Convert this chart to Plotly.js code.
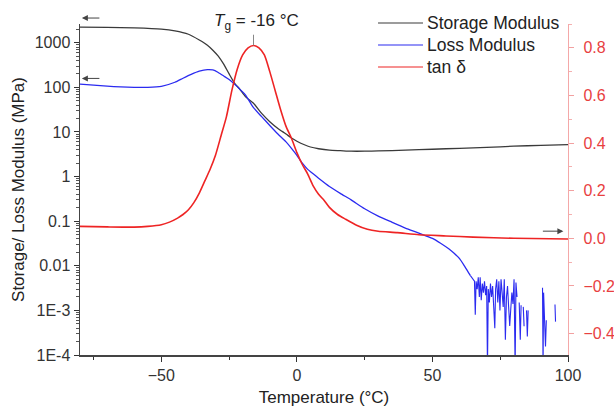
<!DOCTYPE html>
<html>
<head>
<meta charset="utf-8">
<script src="https://cdn.plot.ly/plotly-3.0.1.min.js"></script>
<style>html,body{margin:0;padding:0;background:#fff}#chart{width:614px;height:409px}</style>
</head>
<body>
<div id="chart"></div>
<script>
// Storage modulus (MPa)
const storageT = [-80,-70,-60,-50,-45,-40,-36,-33,-31,-29,-27,-25,-23,-21,-19,-16,-13,-10,-7,-4,-2,0,3,5,8,12,16,20,25,30,40,50,60,70,80,90,100];
const storageE = [2250,2220,2150,2020,1850,1550,1150,880,680,500,330,200,125,90,62,44,26,17,12,9,7.3,6.2,5.1,4.6,4.2,3.9,3.8,3.7,3.7,3.75,3.9,4.1,4.3,4.5,4.8,5.0,5.2];

// Loss modulus (MPa), smooth part
const lossT = [-80,-75,-70,-65,-60,-55,-50,-45,-42,-39,-36,-33,-31,-29,-27,-25,-23,-21,-19,-16,-13,-10,-7,-4,-2,0,2,4,6,8,12,16,20,25,30,35,40,45,50,53,56,58,60,62,64];
const lossE = [118,112,106,102,100,100,105,130,160,195,230,250,245,215,180,150,118,90,68,35,22,14,9,6,4.3,3.0,2.0,1.45,1.15,0.92,0.6,0.42,0.3,0.19,0.13,0.095,0.07,0.054,0.041,0.032,0.024,0.019,0.0145,0.0095,0.006];

// Loss modulus, noisy tail (null = gap / non-positive reading)
const lossNoiseT = [64.0,64.5,65.0,65.5,65.8,66.1,66.5,66.9,67.3,67.6,68.0,68.4,68.8,69.2,69.6,70.0,70.3,70.6,71.0,71.4,71.8,72.2,72.6,73.0,73.3,73.7,74.1,74.5,74.9,75.3,75.7,76.1,76.5,76.9,77.3,77.7,78.1,78.5,78.9,79.3,79.7,80.1,80.5,80.8,81.2,81.6,82.0,82.4,82.7,83.1,83.5,83.8,84.1,84.7,85.0,85.3,86.0,90.6,90.8,91.0,91.4,91.7,92.0,92.3,95.2,95.4];
const lossNoiseE = [0.006,0.0055,0.005,0.0045,0.0008,0.0045,0.003,0.0055,0.002,0.0055,0.0017,0.004,0.0025,0.0045,0.0022,0.0035,0.00005,0.003,0.0015,0.004,0.002,0.0035,0.0012,0.0004,0.003,0.005,0.0015,0.0045,0.001,0.005,0.0025,0.0012,0.005,0.00022,0.002,0.0035,0.0012,0.00045,0.0011,0.0025,0.0014,0.005,0.00005,0.0042,0.002,null,0.0015,0.00022,0.0013,null,0.0012,0.00044,null,0.001,0.00026,0.001,null,0.0032,0.00005,0.0025,0.00073,0.000155,0.0006,null,0.00135,0.00056];

// tan delta
const tanT = [-80,-70,-60,-55,-50,-47,-44,-42,-40,-38,-36,-34,-32,-30,-28,-26,-24,-22,-20,-18,-16,-14,-12,-10,-8,-6,-4,-2,0,2,4,6,8,10,12,15,18,22,26,30,37,45,55,65,80,100];
const tanD = [0.05,0.048,0.047,0.05,0.057,0.068,0.085,0.1,0.12,0.15,0.19,0.24,0.29,0.35,0.43,0.51,0.62,0.71,0.77,0.80,0.81,0.80,0.77,0.70,0.62,0.54,0.47,0.42,0.36,0.31,0.27,0.22,0.185,0.16,0.13,0.1,0.08,0.055,0.038,0.03,0.024,0.015,0.01,0.005,0.0,-0.003];

// Axis ticks
const yTickVals = [1e-4,1e-3,0.01,0.1,1,10,100,1000];
const yTickText = ['1E-4','1E-3','0.01','0.1','1','10','100','1000'];
const Tg = -16;

// Legend entries
const legendNames = ['Storage Modulus', 'Loss Modulus', 'tan δ'];

// minor tick positions for the log axis (2..9 within each decade)
const yMinor = [];
for (let d = -4; d <= 3; d++) for (let m = 2; m <= 9; m++) yMinor.push(m * Math.pow(10, d));

const FONT = 'Liberation Sans, Arial, Helvetica, sans-serif';
const BLACK = '#3a3a3a', BLUE = '#2b2bf0', RED = '#ee2424';
const legendColors = [BLACK, BLUE, RED];

const traces = [
  {x: storageT, y: storageE, name: legendNames[0], mode: 'lines', line: {color: BLACK, width: 1.3, shape: 'spline', smoothing: 0.6}, yaxis: 'y'},
  {x: lossT, y: lossE, name: legendNames[1], mode: 'lines', line: {color: BLUE, width: 1.3, shape: 'spline', smoothing: 0.6}, yaxis: 'y'},
  {x: tanT, y: tanD, name: legendNames[2], mode: 'lines', line: {color: RED, width: 1.6, shape: 'spline', smoothing: 0.6}, yaxis: 'y2'},
  {x: lossNoiseT, y: lossNoiseE, name: legendNames[1], mode: 'lines', line: {color: BLUE, width: 1.1}, yaxis: 'y', connectgaps: false}
];

// Hand-placed legend (paper coordinates), matching the original figure's long key lines
const legX0 = 0.6107, legX1 = 0.7029, legTextX = 0.707;
const legRowY = [1.003, 0.9366, 0.8701];
const legendShapes = legendNames.map((n, i) => ({type: 'line', xref: 'paper', yref: 'paper', x0: legX0, x1: legX1,
  y0: legRowY[i], y1: legRowY[i], line: {color: legendColors[i], width: 1.2}}));
const legendAnns = legendNames.map((n, i) => ({xref: 'paper', yref: 'paper', x: legTextX, y: legRowY[i], text: n,
  showarrow: false, xanchor: 'left', yanchor: 'middle', font: {family: FONT, size: 17.5, color: '#222'}}));

const layout = {
  width: 614, height: 409,
  margin: {l: 80, r: 46, t: 24, b: 54, autoexpand: false},
  paper_bgcolor: '#fff', plot_bgcolor: '#fff',
  font: {family: FONT, size: 16, color: '#333'},
  showlegend: false,
  xaxis: {range: [-80, 100], tickmode: 'linear', tick0: 0, dtick: 50, ticks: 'outside', ticklen: 5, tickcolor: '#333',
          showline: true, linecolor: '#444', linewidth: 1.5, showgrid: false, zeroline: false,
          minor: {tickmode: 'linear', dtick: 25, tick0: 0, ticks: 'outside', ticklen: 3, tickcolor: '#333', showgrid: false},
          tickfont: {size: 16, color: '#333'},
          title: {text: 'Temperature (°C)', font: {size: 17, color: '#222'}, standoff: 8}},
  yaxis: {type: 'log', range: [-4, 3.42], tickmode: 'array', tickvals: yTickVals, ticktext: yTickText, ticks: 'outside',
          ticklen: 5, tickcolor: '#333', showline: true, linecolor: '#444', linewidth: 1.5,
          showgrid: false, zeroline: false, tickfont: {size: 16, color: '#333'},
          minor: {tickmode: 'array', tickvals: yMinor, ticks: 'outside', ticklen: 3, tickcolor: '#555', showgrid: false},
          title: {text: 'Storage/ Loss Modulus (MPa)', font: {size: 17, color: '#222'}, standoff: 6}},
  yaxis2: {overlaying: 'y', side: 'right', range: [-0.49, 0.9], tickmode: 'linear', tick0: 0, dtick: 0.2, tickformat: '.1f',
           ticks: 'outside', ticklen: 5, tickcolor: '#f2a0a0', showline: true, linecolor: '#f4a8a8', linewidth: 1.2,
           showgrid: false, zeroline: false, tickfont: {size: 16, color: '#e8403f'}, ticklabelstandoff: 6,
           minor: {tickmode: 'linear', dtick: 0.1, tick0: 0, ticks: 'outside', ticklen: 3, tickcolor: '#f4b0b0', showgrid: false}},
  annotations: [
    {xref: 'x', yref: 'paper', x: Tg + 1, y: 1.005, text: '<i>T</i><sub>g</sub> = -16 °C', showarrow: false,
     font: {size: 17, color: '#222'}, xanchor: 'center', yanchor: 'middle'},
    {xref: 'x', yref: 'paper', x: -79.3, y: 1.018, ax: 19, ay: 0, text: '',
     showarrow: true, arrowhead: 2, arrowsize: 1.2, arrowwidth: 1, arrowcolor: '#444'},
    {xref: 'x', yref: 'y', x: -79.3, y: 2.2, ax: 19, ay: 0, text: '',
     showarrow: true, arrowhead: 2, arrowsize: 1.2, arrowwidth: 1, arrowcolor: '#444'},
    {xref: 'x', yref: 'y2', x: 98.3, y: 0.03, ax: -22, ay: 0, text: '',
     showarrow: true, arrowhead: 2, arrowsize: 1.2, arrowwidth: 1, arrowcolor: '#444'}
  ].concat(legendAnns),
  shapes: [
    {type: 'line', xref: 'x', yref: 'y2', x0: Tg, x1: Tg, y0: 0.81, y1: 0.855, line: {color: '#888', width: 1}}
  ].concat(legendShapes)
};

Plotly.newPlot('chart', traces, layout, {displayModeBar: false, staticPlot: true});
</script>
</body>
</html>
